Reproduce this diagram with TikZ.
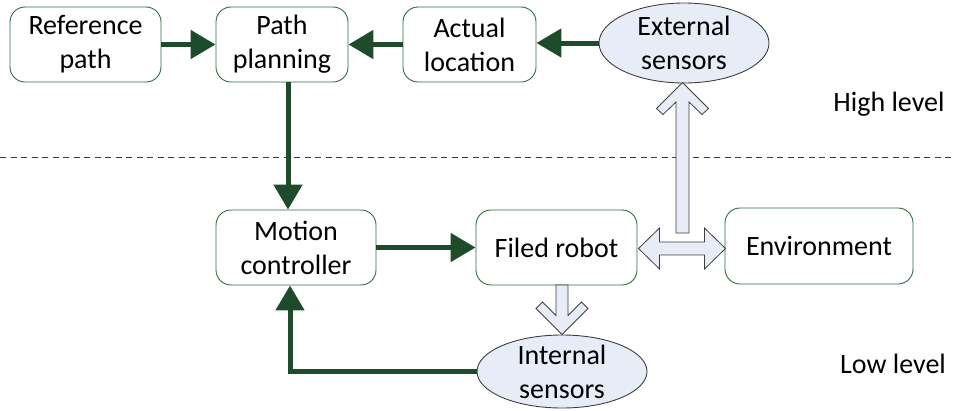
\documentclass[tikz,border=0pt]{standalone}
\usepackage{fontspec}
\setmainfont{Carlito}
\usetikzlibrary{arrows.meta,shapes.geometric}
\definecolor{flowgreen}{HTML}{1E4B2A}
\definecolor{boxgreen}{HTML}{2E6B3E}
\definecolor{sensfill}{HTML}{E7ECF7}
\definecolor{edgegray}{HTML}{3F3F3F}
\begin{document}
\begin{tikzpicture}[x=1pt,y=-1pt,
  font=\fontsize{28}{34}\selectfont,
  blockbox/.style={draw=boxgreen, line width=0.9pt, rounded corners=15pt, align=center, inner sep=2pt},
  sensor/.style={ellipse, draw=edgegray, fill=sensfill, line width=0.9pt, inner sep=0pt},
  flow/.style={draw=flowgreen, line width=5pt, -{Triangle[length=25pt,width=28pt]}},
  bigarrow/.style={draw=edgegray, fill=sensfill, line width=0.8pt, line join=miter}]
\useasboundingbox (0,0) rectangle (953,410);

% level separator
\draw[flowgreen, line width=1pt, dash pattern=on 6pt off 4.5pt] (0,157) -- (953,157);

% blocks
\node[blockbox, minimum width=151pt, minimum height=75pt] (ref) at (85.5,44.5) {Reference\\path};
\node[blockbox, minimum width=132pt, minimum height=75pt] (pp) at (282,44.5) {Path\\planning};
\node[blockbox, minimum width=133pt, minimum height=75pt] (al) at (469.5,44.5) {Actual\\location};
\node[sensor, minimum width=170pt, minimum height=80pt] (es) at (684,43) {};
\node[align=center] (estext) at (es.center) {External\\sensors};
\node[blockbox, minimum width=160pt, minimum height=75pt] (mc) at (296,247.5) {Motion\\controller};
\node[blockbox, minimum width=161pt, minimum height=75pt] (fr) at (556.5,247.5) {Filed robot};
\node[blockbox, minimum width=188pt, minimum height=76pt] (env) at (819,246) {Environment};
\node[sensor, minimum width=170pt, minimum height=73pt] (is) at (562,371.5) {};
\node[align=center] (istext) at (is.center) {Internal\\sensors};

% level labels
\node (hi) at (889,104) {High level};
\node (lo) at (893,364) {Low level};

% signal flow
\draw[flow] (ref.east) -- (pp.west);
\draw[flow] (al.west) -- (pp.east);
\draw[flow] (es.west) -- (es.west -| al.east);
\draw[flow] ([xshift=6pt]pp.south) -- ([xshift=6pt]pp.south |- mc.north);
\draw[flow] (mc.east) -- (fr.west);
\draw[flow] (is.west) -| ([xshift=-6pt]mc.south);

% physical interaction arrows
\draw[bigarrow] (676,233) -- (676,102) -- (663,114.5) -- (656.5,108.5) -- (682.5,82.5)
  -- (708.5,108.5) -- (702,114.5) -- (689,102) -- (689,233) -- cycle;
\draw[bigarrow] (556,285) -- (556,315.5) -- (542.5,302) -- (536,308.5) -- (562,334.5)
  -- (588,308.5) -- (581.5,302) -- (568,315.5) -- (568,285) -- cycle;
\draw[bigarrow] (638.5,248.5) -- (659.5,228) -- (659.5,242) -- (704.5,242) -- (704.5,228)
  -- (725.5,248.5) -- (704.5,269) -- (704.5,255) -- (659.5,255) -- (659.5,269) -- cycle;
\end{tikzpicture}
\end{document}
